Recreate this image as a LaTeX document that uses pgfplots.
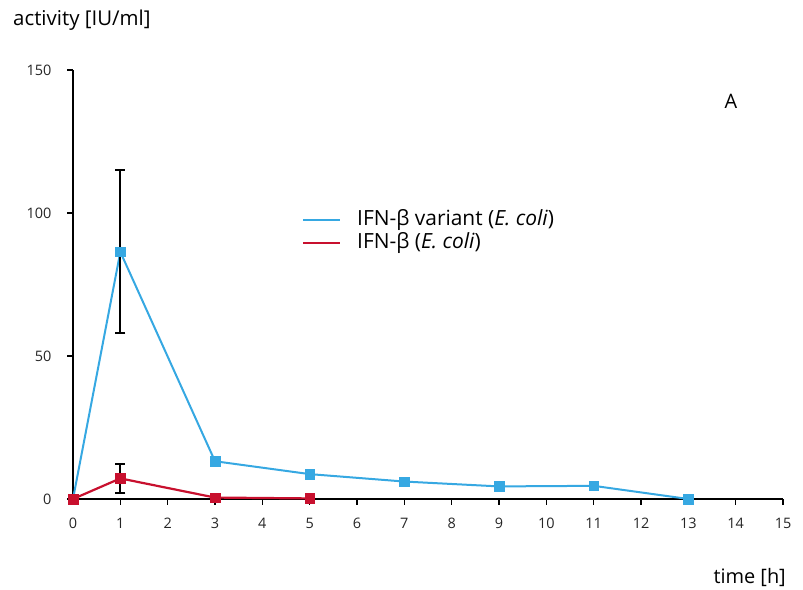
\documentclass[border=0pt]{standalone}
\usepackage{pgfplots}
\pgfplotsset{compat=1.18}
\usepackage{fontspec}
\setmainfont{Open Sans}
\definecolor{cblue}{RGB}{54,168,226}
\definecolor{cred}{RGB}{200,16,46}
\begin{document}
\begin{tikzpicture}[x=1bp,y=1bp]
\path[use as bounding box] (0,0) rectangle (803,590);
\begin{axis}[
    at={(73bp,91bp)}, anchor=south west,
    scale only axis,
    width=710bp, height=429bp,
    xmin=0, xmax=15, ymin=0, ymax=150,
    axis x line=bottom, axis y line=left,
    axis line style={black, line width=1.6bp, -},
    xtick={0,...,15}, ytick={0,50,100,150},
    tick style={black, line width=1.4bp},
    major tick length=6bp,
    tick align=outside,
    every tick label/.append style={font=\fontsize{14.5}{16}\selectfont, text=black!85},
    yticklabel style={xshift=-12bp},
    xticklabel style={yshift=-10bp},
    /pgf/number format/assume math mode=true,
    error bars/error bar style={black, line width=2bp},
    error bars/error mark options={black, line width=2bp, mark size=5bp, rotate=90},
    clip=false,
]
\addplot[cblue, line width=2bp, mark=square*, mark size=4.8bp,
    mark options={line width=0.4bp},
    error bars/.cd, y dir=both, y explicit]
coordinates {
    (0,0)
    (1,86.4) +- (0,28.5)
    (3,13.2)
    (5,8.7)
    (7,6.1)
    (9,4.4)
    (11,4.6)
    (13,0)
};
\addplot[cred, line width=2.2bp, mark=square*, mark size=4.8bp,
    mark options={line width=0.4bp},
    error bars/.cd, y dir=both, y explicit]
coordinates {
    (0,0)
    (1,7.2) +- (0,5.2)
    (3,0.5)
    (5,0.2)
};
\draw[cblue, line width=2bp] (axis cs:4.86,97.6) -- (axis cs:5.64,97.6);
\draw[cred, line width=2bp] (axis cs:4.86,89.6) -- (axis cs:5.64,89.6);
\node[anchor=west, font=\fontsize{21}{24}\selectfont, inner sep=0pt] at (axis cs:6.0,97.6) {IFN-β variant (\textit{E. coli})};
\node[anchor=west, font=\fontsize{21}{24}\selectfont, inner sep=0pt] at (axis cs:6.0,89.6) {IFN-β (\textit{E. coli})};
\node[font=\fontsize{20}{24}\selectfont] at (axis cs:13.9,139) {A};
\end{axis}
\node[anchor=west, font=\fontsize{20.5}{24}\selectfont, inner sep=0pt] at (13,570) {activity [IU/ml]};
\node[anchor=east, font=\fontsize{20}{24}\selectfont, inner sep=0pt] at (786,12) {time [h]};
\end{tikzpicture}
\end{document}
